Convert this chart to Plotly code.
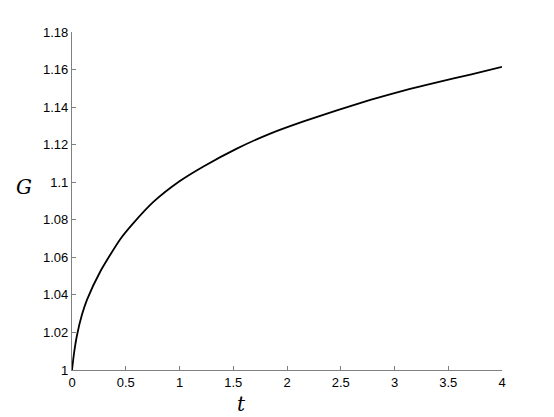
import plotly.graph_objects as go

# values
t = [0, 0.019, 0.0465, 0.093, 0.14, 0.261, 0.447, 0.571, 0.757, 1.0,
     1.223, 1.533, 1.844, 2.154, 2.464, 2.775, 3.085, 3.395, 3.706, 4.0]
G = [1.000, 1.009, 1.0185, 1.0295, 1.0375, 1.0522, 1.0695, 1.0782, 1.0895, 1.1005,
     1.1084, 1.1179, 1.1259, 1.1324, 1.1383, 1.1438, 1.1488, 1.1532, 1.1573, 1.1614]

x_ticks = [0, 0.5, 1, 1.5, 2, 2.5, 3, 3.5, 4]
x_ticklabels = ["0", "0.5", "1", "1.5", "2", "2.5", "3", "3.5", "4"]
y_ticks = [1, 1.02, 1.04, 1.06, 1.08, 1.1, 1.12, 1.14, 1.16, 1.18]
y_ticklabels = ["1", "1.02", "1.04", "1.06", "1.08", "1.1", "1.12", "1.14", "1.16", "1.18"]

fig = go.Figure()
fig.add_trace(go.Scatter(x=t, y=G, mode="lines",
                         line=dict(color="black", width=1.8, shape="spline", smoothing=0.6),
                         showlegend=False, hoverinfo="skip"))

axis_style = dict(showgrid=False, zeroline=False, showline=True, linecolor="#808080",
                  linewidth=1.3, ticks="inside", ticklen=4, tickcolor="#808080",
                  tickwidth=1, tickfont=dict(family="Liberation Sans", size=13, color="black"))

fig.update_xaxes(range=[0, 4], tickvals=x_ticks, ticktext=x_ticklabels, **axis_style)
fig.update_yaxes(range=[1, 1.18], tickvals=y_ticks, ticktext=y_ticklabels, **axis_style)

label_font = dict(family="DejaVu Serif", size=20, color="black")
fig.add_annotation(text="<i>G</i>", xref="paper", yref="paper", x=-0.112, y=0.541,
                   xanchor="center", yanchor="middle", showarrow=False, font=label_font)
fig.add_annotation(text="<i>t</i>", xref="paper", yref="paper", x=0.395, y=-0.10,
                   xanchor="center", yanchor="middle", showarrow=False, font=label_font)

# page body adds an 8px offset, so margins are reduced by 8 at top/left
fig.update_layout(width=554, height=417, plot_bgcolor="white", paper_bgcolor="white",
                  margin=dict(l=64, r=60, t=24, b=55))

fig.write_html("out.html")
